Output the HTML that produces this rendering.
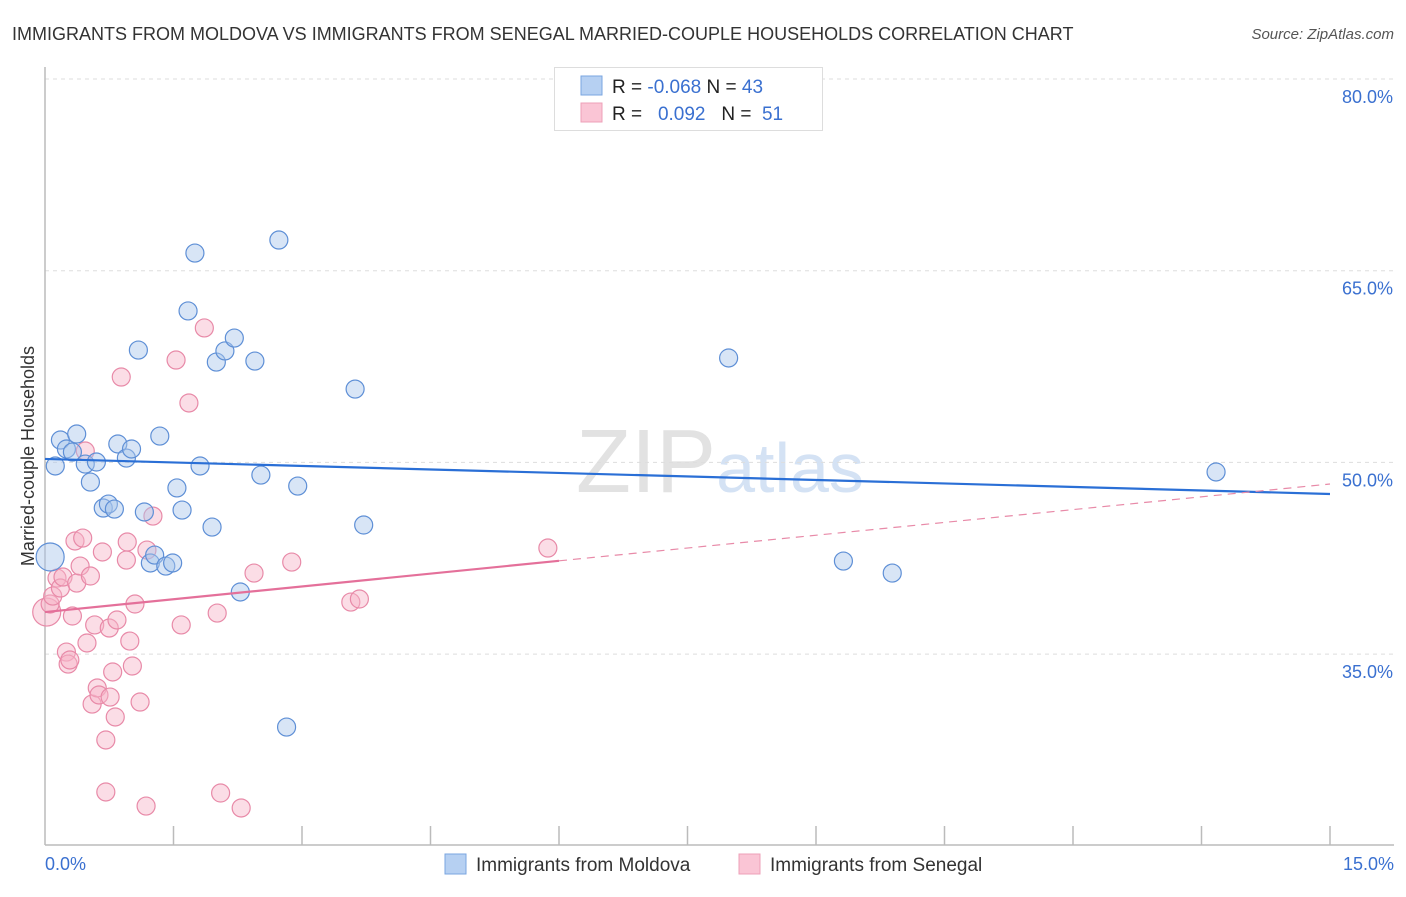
<!DOCTYPE html>
<html><head><meta charset="utf-8"><style>
body{margin:0;background:#fff;font-family:"Liberation Sans",sans-serif}
svg text{font-family:"Liberation Sans",sans-serif}
</style></head><body>
<svg id="c" width="1406" height="892" viewBox="0 0 1406 892" xmlns="http://www.w3.org/2000/svg">
<text x="12" y="40" font-size="18" fill="#333">IMMIGRANTS FROM MOLDOVA VS IMMIGRANTS FROM SENEGAL MARRIED-COUPLE HOUSEHOLDS CORRELATION CHART</text>
<text x="1394" y="39" font-size="15" fill="#555" font-style="italic" text-anchor="end">Source: ZipAtlas.com</text>
<text x="720" y="492" font-size="90" fill="#e2e2e2" text-anchor="middle" font-family="Liberation Serif">ZIP<tspan fill="#d4e2f4" font-family="Liberation Sans" font-size="70">atlas</tspan></text>
<text transform="translate(34,456) rotate(-90)" font-size="18" fill="#333" text-anchor="middle">Married-couple Households</text>
<g id="grid"></g><g id="ticks"></g>
<line x1="45" y1="67" x2="45" y2="845" stroke="#bbb" stroke-width="1.5"/>
<line x1="45" y1="845" x2="1394" y2="845" stroke="#bbb" stroke-width="1.5"/>
<text x="45" y="870" font-size="18" fill="#3a70d0">0.0%</text>
<text x="1394" y="870" font-size="18" fill="#3a70d0" text-anchor="end">15.0%</text>
<g id="pts"></g><g id="lines"></g>
<g>
<rect x="554.5" y="67.5" width="268" height="63" fill="#fff" stroke="#ddd"/>
<rect x="581" y="76" width="21" height="19" fill="#b6d0f2" stroke="#7aa6e0"/>
<rect x="581" y="103" width="21" height="19" fill="#fac5d5" stroke="#eea0b8"/>
<text x="612" y="93" font-size="19" fill="#222">R = <tspan fill="#3a70d0">-0.068</tspan>   N = <tspan fill="#3a70d0">43</tspan></text>
<text x="612" y="120" font-size="19" fill="#222" xml:space="preserve">R =   <tspan fill="#3a70d0">0.092</tspan>   N =  <tspan fill="#3a70d0">51</tspan></text>
</g>
<g><rect x="445" y="854" width="21" height="20" fill="#b6d0f2" stroke="#7aa6e0"/><text x="476" y="871" font-size="19" fill="#333">Immigrants from Moldova</text></g>
<g><rect x="739" y="854" width="21" height="20" fill="#fac5d5" stroke="#eea0b8"/><text x="770" y="871" font-size="19" fill="#333">Immigrants from Senegal</text></g>
</svg>
<script>
const yTicks=[80,65,50,35];
const blueX=[0.06,0.12,0.18,0.25,0.32,0.37,0.47,0.53,0.60,0.68,0.74,0.81,0.85,0.95,1.01,1.09,1.16,1.23,1.28,1.34,1.41,1.49,1.54,1.60,1.67,1.75,1.81,1.95,2.00,2.10,2.21,2.28,2.45,2.52,2.73,2.82,2.95,3.62,3.72,7.98,9.32,9.89,13.67];
const blueY=[42.60,49.72,51.75,51.05,50.81,52.22,49.87,48.46,50.03,46.43,46.74,46.35,51.44,50.34,51.05,58.79,46.12,42.13,42.75,52.06,41.89,42.13,48.00,46.27,61.85,66.38,49.72,44.94,57.85,58.72,59.73,39.86,57.93,49.01,67.40,29.29,48.15,55.74,45.10,58.17,42.28,41.34,49.25];
const pinkX=[0.02,0.06,0.09,0.14,0.18,0.21,0.25,0.27,0.29,0.32,0.35,0.37,0.41,0.44,0.49,0.53,0.55,0.58,0.61,0.63,0.67,0.71,0.71,0.75,0.79,0.82,0.84,0.89,0.95,0.96,0.99,1.02,1.05,1.11,1.18,1.19,1.26,1.53,1.59,1.68,1.86,2.01,2.05,2.29,2.44,2.88,3.57,3.67,5.87,0.47,0.76];
const pinkY=[38.29,38.92,39.54,40.95,40.17,41.03,35.16,34.22,34.54,37.98,43.85,40.56,41.89,44.08,35.87,41.11,31.09,37.28,32.35,31.80,42.99,28.28,24.21,37.04,33.60,30.08,37.67,56.68,42.36,43.77,36.02,34.07,38.92,31.25,23.11,43.14,45.80,58.01,37.28,54.65,60.52,38.21,24.13,22.96,41.34,42.20,39.07,39.31,43.30,50.89,31.64];
const blueTrend=[50.27,47.53];
const pinkTrend=[38.29,48.31];
const pinkSolidEnd=6.0;
const NS='http://www.w3.org/2000/svg';
const sx=v=>45+v/15*1285;
const sy=v=>79+(80-v)/15*191.7;
function mk(t,a,p){const e=document.createElementNS(NS,t);for(const k in a)e.setAttribute(k,a[k]);document.getElementById(p).appendChild(e);return e;}
yTicks.forEach(t=>{
 const l=mk('line',{x1:45,x2:1394,y1:sy(t),y2:sy(t),stroke:'#ddd','stroke-dasharray':'4,4'},'grid');
 
 
 const tx=mk('text',{x:1393,y:sy(t)+24,'font-size':18,fill:'#3a70d0','text-anchor':'end'},'grid');
 tx.textContent=t.toFixed(1)+'%';
 
 
});
for(let i=1;i<=10;i++){
 const l=mk('line',{x1:sx(i*1.5),x2:sx(i*1.5),y1:826,y2:845,stroke:'#bbb','stroke-width':1.5},'ticks');
 
 
}
function pts(X,Y,fill,stroke,name){
 X.forEach((x,i)=>{
  const c=mk('circle',{cx:sx(x),cy:sy(Y[i]),r:i===0?14:9,fill:fill,'fill-opacity':0.45,stroke:stroke,'stroke-width':1.2},'pts');
  
  
 });
}
pts(pinkX,pinkY,'#f7b3c8','#e88aa8','senegal-point');
pts(blueX,blueY,'#a9c6ec','#5e8fd6','moldova-point');
let l=mk('line',{x1:sx(0),y1:sy(blueTrend[0]),x2:sx(15),y2:sy(blueTrend[1]),stroke:'#2a6fd6','stroke-width':2.2},'lines');


const pAt=x=>pinkTrend[0]+(pinkTrend[1]-pinkTrend[0])*x/15;
l=mk('line',{x1:sx(0),y1:sy(pAt(0)),x2:sx(pinkSolidEnd),y2:sy(pAt(pinkSolidEnd)),stroke:'#e4709a','stroke-width':2.2},'lines');


l=mk('line',{x1:sx(pinkSolidEnd),y1:sy(pAt(pinkSolidEnd)),x2:sx(15),y2:sy(pAt(15)),stroke:'#e88aa8','stroke-width':1.2,'stroke-dasharray':'8,6'},'lines');


</script>
</body></html>
